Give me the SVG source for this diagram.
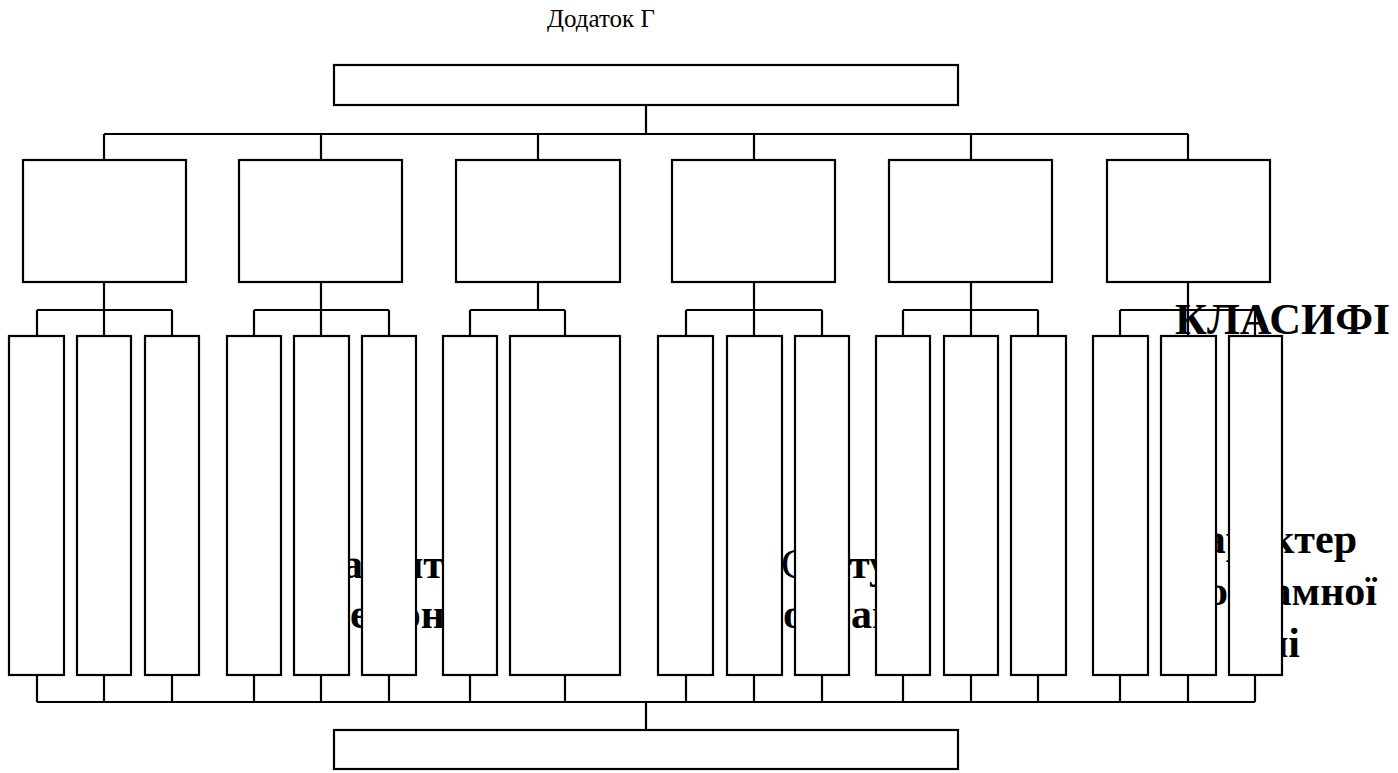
<svg xmlns="http://www.w3.org/2000/svg" width="1398" height="773" viewBox="0 0 1398 773">
<style>
.b{fill:#fff;stroke:#000;stroke-width:2.2}
.c{fill:none;stroke:#000;stroke-width:2.2}
.t{font-family:"Liberation Serif","Times New Roman",serif;font-size:42px;font-weight:bold;fill:#000}
.r{font-family:"Liberation Serif","Times New Roman",serif;fill:#000}
</style>
<rect width="1398" height="773" fill="#fff"/>
<g id="labels">
<text class="r" x="547" y="27" font-size="25">Додаток Г</text>
<text class="t" x="1175" y="334" style="font-size:44px">КЛАСИФІ</text>
<text class="t" x="342" y="578">а</text>
<text class="t" x="444" y="578" text-anchor="end">ит</text>
<text class="t" x="350" y="628">е</text>
<text class="t" x="445" y="628" text-anchor="end">он</text>
<text class="r" x="781" y="578" font-size="42">С</text>
<text class="t" x="849" y="578">ту</text>
<text class="t" x="783" y="628">о</text>
<text class="t" x="851" y="628">ан</text>
<text class="t" x="1357" y="553" text-anchor="end">Характер</text>
<text class="t" x="1377" y="605" text-anchor="end">програмної</text>
<text class="t" x="1300" y="657" text-anchor="end">ні</text>
</g>
<g id="connectors" class="c">
<path d="M646 105V134M104 134H1188M104 134V160M321 134V160M538 134V160M754 134V160M971 134V160M1188 134V160"/>
<path d="M104 282V310M37 310H172M37 310V336M104 310V336M172 310V336"/>
<path d="M321 282V310M254 310H389M254 310V336M321 310V336M389 310V336"/>
<path d="M538 282V310M470 310H565M470 310V336M565 310V336"/>
<path d="M754 282V310M686 310H822M686 310V336M754 310V336M822 310V336"/>
<path d="M971 282V310M903 310H1038M903 310V336M971 310V336M1038 310V336"/>
<path d="M1188 282V310M1120 310H1255M1120 310V336M1188 310V336M1255 310V336"/>
<path d="M37 675V702M104 675V702M172 675V702M254 675V702M321 675V702M389 675V702M470 675V702M565 675V702M686 675V702M754 675V702M822 675V702M903 675V702M971 675V702M1038 675V702M1120 675V702M1188 675V702M1255 675V702M37 702H1255M646 702V730"/>
</g>
<g id="top"><rect class="b" x="334" y="65" width="624" height="40"/></g>
<g id="n1"><rect class="b" x="23" y="160" width="163" height="122"/></g>
<g id="n2"><rect class="b" x="239" y="160" width="163" height="122"/></g>
<g id="n3"><rect class="b" x="456" y="160" width="164" height="122"/></g>
<g id="n4"><rect class="b" x="672" y="160" width="163" height="122"/></g>
<g id="n5"><rect class="b" x="889" y="160" width="163" height="122"/></g>
<g id="n6"><rect class="b" x="1107" y="160" width="163" height="122"/></g>
<g id="c1a"><rect class="b" x="9" y="336" width="55" height="339"/></g>
<g id="c1b"><rect class="b" x="77" y="336" width="54" height="339"/></g>
<g id="c1c"><rect class="b" x="145" y="336" width="54" height="339"/></g>
<g id="c2a"><rect class="b" x="227" y="336" width="54" height="339"/></g>
<g id="c2b"><rect class="b" x="294" y="336" width="55" height="339"/></g>
<g id="c2c"><rect class="b" x="362" y="336" width="54" height="339"/></g>
<g id="c3a"><rect class="b" x="443" y="336" width="54" height="339"/></g>
<g id="c3b"><rect class="b" x="510" y="336" width="110" height="339"/></g>
<g id="c4a"><rect class="b" x="658" y="336" width="55" height="339"/></g>
<g id="c4b"><rect class="b" x="727" y="336" width="55" height="339"/></g>
<g id="c4c"><rect class="b" x="795" y="336" width="54" height="339"/></g>
<g id="c5a"><rect class="b" x="876" y="336" width="54" height="339"/></g>
<g id="c5b"><rect class="b" x="944" y="336" width="54" height="339"/></g>
<g id="c5c"><rect class="b" x="1011" y="336" width="55" height="339"/></g>
<g id="c6a"><rect class="b" x="1093" y="336" width="55" height="339"/></g>
<g id="c6b"><rect class="b" x="1161" y="336" width="55" height="339"/></g>
<g id="c6c"><rect class="b" x="1229" y="336" width="53" height="339"/></g>
<g id="bottom"><rect class="b" x="334" y="730" width="624" height="39"/></g>
</svg>
